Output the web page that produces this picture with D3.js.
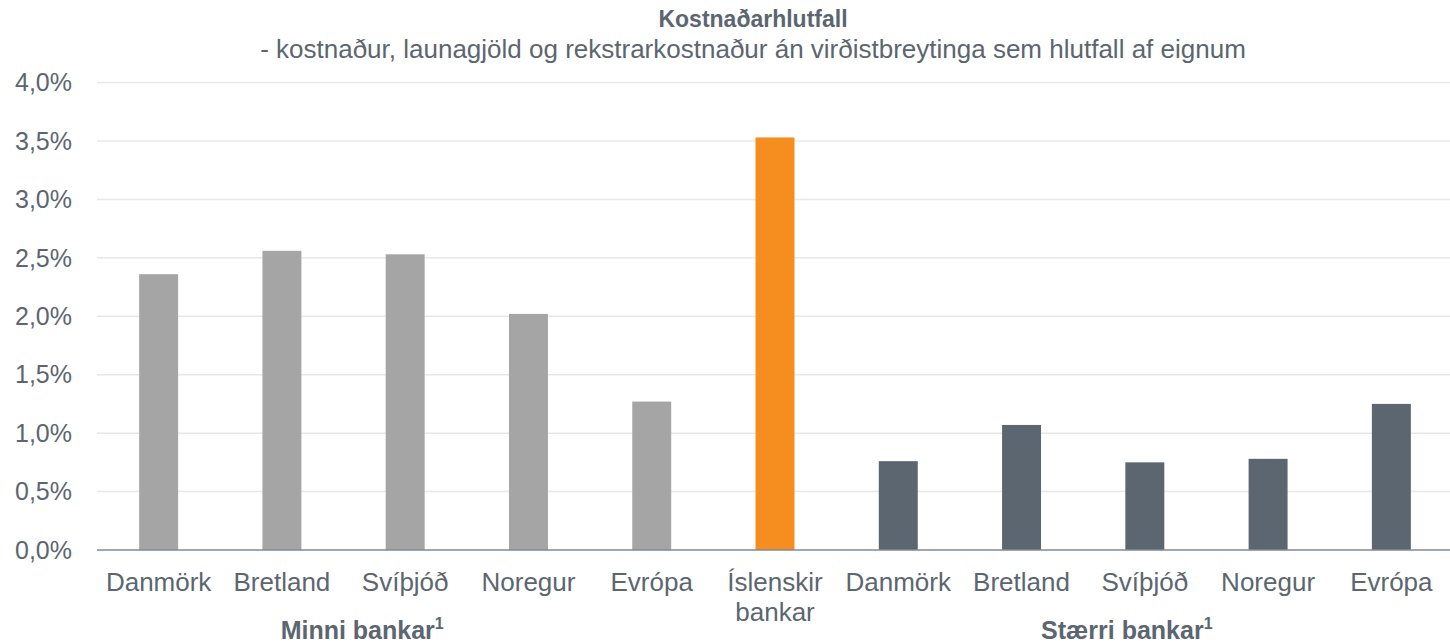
<!DOCTYPE html>
<html lang="is">

<head>
  <meta charset="UTF-8" />
  <script src="https://d3js.org/d3.v7.min.js"></script>
  <style>
    body {
      margin: 0;
      background-color: #ffffff;
      overflow: hidden;
    }

    svg {
      display: block;
      font-family: "Liberation Sans", Arial, sans-serif;
    }
  </style>
</head>

<body>
  <svg width="1450" height="643"></svg>

  <script>
    const categories = ["Danmörk", "Bretland", "Svíþjóð", "Noregur", "Evrópa", "Íslenskir bankar",
      "Danmörk", "Bretland", "Svíþjóð", "Noregur", "Evrópa"];
    const values = [2.36, 2.56, 2.53, 2.02, 1.27, 3.53, 0.76, 1.07, 0.75, 0.78, 1.25];
    const groups = ["small", "small", "small", "small", "small", "is", "large", "large", "large", "large", "large"];
    const yTicks = [0, 0.5, 1, 1.5, 2, 2.5, 3, 3.5, 4];
    const groupLabels = [
      { name: "Minni bankar", from: 0, to: 4, shift: -43 },
      { name: "Stærri bankar", from: 6, to: 10, shift: -18 }
    ];

    const colors = { small: "#a5a5a5", is: "#f58d1f", large: "#5b6670" };
    const textColor = "#5b6670";

    const svg = d3.select("svg");
    const plotLeft = 97, plotRight = 1453, plotTop = 82.5, plotBottom = 550;

    const x = d3.scaleBand()
      .domain(d3.range(categories.length))
      .range([plotLeft, plotRight])
      .paddingInner(0.684)
      .paddingOuter(0.342);

    const y = d3.scaleLinear().domain([0, 4]).range([plotBottom, plotTop]);

    // gridlines
    svg.append("g")
      .selectAll("line")
      .data(yTicks.filter(d => d > 0))
      .join("line")
      .attr("x1", plotLeft)
      .attr("x2", 1450)
      .attr("y1", d => y(d))
      .attr("y2", d => y(d))
      .attr("stroke", "#e8e8e8")
      .attr("stroke-width", 1.5);

    // y axis labels
    const fmt = d => d3.format(".1f")(d).replace(".", ",") + "%";
    svg.append("g")
      .selectAll("text")
      .data(yTicks)
      .join("text")
      .attr("x", 72)
      .attr("y", d => y(d))
      .attr("dy", "0.35em")
      .attr("text-anchor", "end")
      .attr("fill", textColor)
      .attr("font-size", 25)
      .text(fmt);

    // bars
    svg.append("g")
      .selectAll("rect")
      .data(values)
      .join("rect")
      .attr("x", (d, i) => x(i))
      .attr("width", x.bandwidth())
      .attr("y", d => y(d))
      .attr("height", d => y(0) - y(d))
      .attr("fill", (d, i) => colors[groups[i]]);

    // baseline
    svg.append("line")
      .attr("x1", plotLeft)
      .attr("x2", 1450)
      .attr("y1", y(0))
      .attr("y2", y(0))
      .attr("stroke", "#7f8a94")
      .attr("stroke-width", 1.5);

    // category labels
    const catText = svg.append("g")
      .selectAll("text")
      .data(categories)
      .join("text")
      .attr("x", (d, i) => x(i) + x.bandwidth() / 2)
      .attr("y", 591)
      .attr("text-anchor", "middle")
      .attr("fill", textColor)
      .attr("font-size", 26);

    catText.each(function (d) {
      const words = d === "Íslenskir bankar" ? ["Íslenskir", "bankar"] : [d];
      const t = d3.select(this);
      words.forEach((w, k) => {
        t.append("tspan")
          .attr("x", t.attr("x"))
          .attr("dy", k === 0 ? 0 : 30)
          .text(w);
      });
    });

    // group labels
    groupLabels.forEach(g => {
      const cx = (x(g.from) + x(g.to) + x.bandwidth()) / 2 + g.shift;
      const t = svg.append("text")
        .attr("x", cx)
        .attr("y", 639)
        .attr("text-anchor", "middle")
        .attr("fill", textColor)
        .attr("font-size", 25)
        .attr("font-weight", "bold")
        .text(g.name);
      t.append("tspan")
        .attr("font-size", 16)
        .attr("dy", -10)
        .text("1");
    });

    // title
    svg.append("text")
      .attr("x", 753)
      .attr("y", 27)
      .attr("text-anchor", "middle")
      .attr("fill", textColor)
      .attr("font-size", 23)
      .attr("font-weight", "bold")
      .text("Kostnaðarhlutfall");

    svg.append("text")
      .attr("x", 753)
      .attr("y", 58)
      .attr("text-anchor", "middle")
      .attr("fill", textColor)
      .attr("font-size", 26)
      .text("- kostnaður, launagjöld og rekstrarkostnaður án virðistbreytinga sem hlutfall af eignum");
  </script>
</body>

</html>
